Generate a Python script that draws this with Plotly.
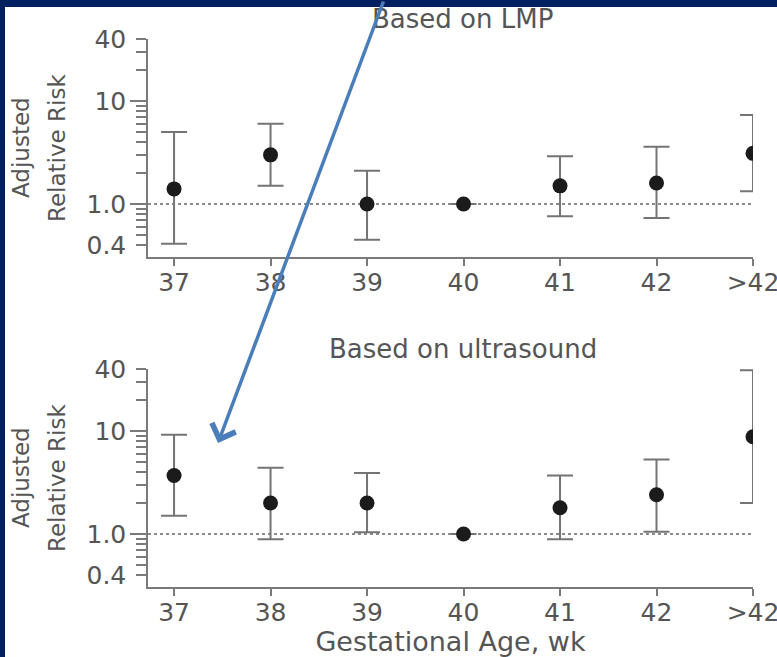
import plotly.graph_objects as go

W, H = 777, 657

# Gestational age categories (weeks)
weeks = ["37", "38", "39", "40", "41", "42", ">42"]

# Adjusted relative risk with 95% CI, dating based on last menstrual period
lmp_rr = [1.4, 3.0, 1.0, 1.0, 1.5, 1.6, 3.1]
lmp_lower = [0.41, 1.5, 0.45, None, 0.76, 0.73, 1.33]
lmp_upper = [5.0, 6.0, 2.1, None, 2.9, 3.6, 7.3]

# Adjusted relative risk with 95% CI, dating based on ultrasound
us_rr = [3.7, 2.0, 2.0, 1.0, 1.8, 2.4, 8.8]
us_lower = [1.5, 0.89, 1.04, None, 0.89, 1.05, 2.0]
us_upper = [9.2, 4.4, 3.9, None, 3.7, 5.3, 39.0]

# Y axis ticks
y_tickvals = [0.4, 1, 10, 40]
y_ticktext = ["0.4", "1.0", "10", "40"]
y_minor = [0.5, 0.6, 0.7, 0.8, 0.9, 2, 3, 4, 5, 6, 7, 8, 9, 20, 30]
y_decades = [1, 10]
y_range = [-0.515, 1.602]  # log10 units

FONT = "DejaVu Sans"
TXT = "#555555"
AX = "#7a7a7a"
NAVY = "#00205f"


def px_x(p):
    return p / W


def px_y(p):
    return 1 - p / H


def errs(rr, lo, hi):
    plus = [None if h is None else h - v for v, h in zip(rr, hi)]
    minus = [None if l is None else v - l for v, l in zip(rr, lo)]
    return plus, minus


fig = go.Figure()

for rr, lo, hi, xa, ya in [(lmp_rr, lmp_lower, lmp_upper, "x", "y"),
                           (us_rr, us_lower, us_upper, "x2", "y2")]:
    plus, minus = errs(rr, lo, hi)
    fig.add_trace(go.Scatter(
        x=weeks, y=rr, mode="markers", xaxis=xa, yaxis=ya,
        marker=dict(size=15, color="#1b1b1b"),
        error_y=dict(type="data", array=plus, arrayminus=minus,
                     color="#747474", thickness=2, width=13),
        showlegend=False, hoverinfo="skip",
    ))

# empty traces carrying the long decade ticks
fig.add_trace(go.Scatter(x=[], y=[], xaxis="x", yaxis="y3", showlegend=False))
fig.add_trace(go.Scatter(x=[], y=[], xaxis="x2", yaxis="y4", showlegend=False))

xdom = [px_x(148), px_x(753)]
ydom_top = [px_y(257), px_y(39)]
ydom_bot = [px_y(587), px_y(369)]

xaxis_common = dict(
    type="category", categoryorder="array", categoryarray=weeks,
    range=[-0.27, 6], domain=xdom, automargin=False,
    showline=True, linecolor=AX, linewidth=1.5,
    ticks="outside", ticklen=7, tickwidth=1.5, tickcolor=AX,
    ticklabelstandoff=-5,
    tickfont=dict(family=FONT, size=25, color=TXT),
    showgrid=False, zeroline=False, fixedrange=True,
)
yaxis_common = dict(
    type="log", range=y_range, automargin=False,
    showline=True, linecolor=AX, linewidth=1.5,
    tickmode="array", tickvals=y_tickvals, ticktext=y_ticktext,
    ticks="outside", ticklen=10, tickwidth=1.5, tickcolor=AX,
    ticklabelstandoff=5,
    tickfont=dict(family=FONT, size=25, color=TXT),
    minor=dict(tickmode="array", tickvals=y_minor, ticks="outside",
               ticklen=10, tickwidth=1.5, tickcolor=AX, showgrid=False),
    showgrid=False, zeroline=False, fixedrange=True,
)
decade_axis = dict(
    type="log", range=y_range, automargin=False,
    tickmode="array", tickvals=y_decades,
    ticks="outside", ticklen=17, tickwidth=1.5, tickcolor=AX,
    showticklabels=False, showline=False, showgrid=False, zeroline=False,
)

fig.update_layout(
    width=W, height=H,
    margin=dict(l=0, r=0, t=0, b=0, autoexpand=False),
    paper_bgcolor="white", plot_bgcolor="white",
    font=dict(family=FONT, color=TXT),
    xaxis=dict(anchor="y", **xaxis_common),
    xaxis2=dict(anchor="y2", **xaxis_common,
                title=dict(text="Gestational Age, wk",
                           font=dict(family=FONT, size=27, color=TXT),
                           standoff=11)),
    yaxis=dict(anchor="x", domain=ydom_top, **yaxis_common),
    yaxis2=dict(anchor="x2", domain=ydom_bot, **yaxis_common),
    yaxis3=dict(anchor="x", overlaying="y", **decade_axis),
    yaxis4=dict(anchor="x2", overlaying="y2", **decade_axis),
)

# dotted reference line at RR = 1
for xr, yr in [("x domain", "y"), ("x2 domain", "y2")]:
    fig.add_shape(type="line", xref=xr, yref=yr, x0=0, x1=1, y0=1, y1=1,
                  line=dict(color="#666666", width=1.5, dash="dot"),
                  layer="below")

# panel titles
for text, yp in [("Based on LMP", 18.5), ("Based on ultrasound", 348.5)]:
    fig.add_annotation(text=text, xref="paper", yref="paper",
                       x=px_x(463), y=px_y(yp), xanchor="center",
                       yanchor="middle", showarrow=False,
                       font=dict(family=FONT, size=26, color=TXT))

# two-line rotated y titles
for yc in [148, 478]:
    for text, xc in [("Adjusted", 21), ("Relative Risk", 57)]:
        fig.add_annotation(text=text, xref="paper", yref="paper",
                           x=px_x(xc), y=px_y(yc), xanchor="center",
                           yanchor="middle", textangle=-90, showarrow=False,
                           font=dict(family=FONT, size=23, color=TXT))

# slide frame
fig.add_shape(type="rect", xref="paper", yref="paper", x0=0, x1=px_x(5),
              y0=0, y1=1, fillcolor=NAVY, line=dict(width=0), layer="above")
fig.add_shape(type="rect", xref="paper", yref="paper", x0=0, x1=1,
              y0=px_y(7), y1=1, fillcolor=NAVY, line=dict(width=0),
              layer="above")

# callout arrow
fig.add_annotation(text="", xref="paper", yref="paper",
                   x=px_x(218), y=px_y(443), ax=166, ay=-446,
                   showarrow=True, arrowhead=4, arrowsize=1.4,
                   arrowwidth=3.5, arrowcolor="#4a7ebb")

fig.write_html("out.html")
